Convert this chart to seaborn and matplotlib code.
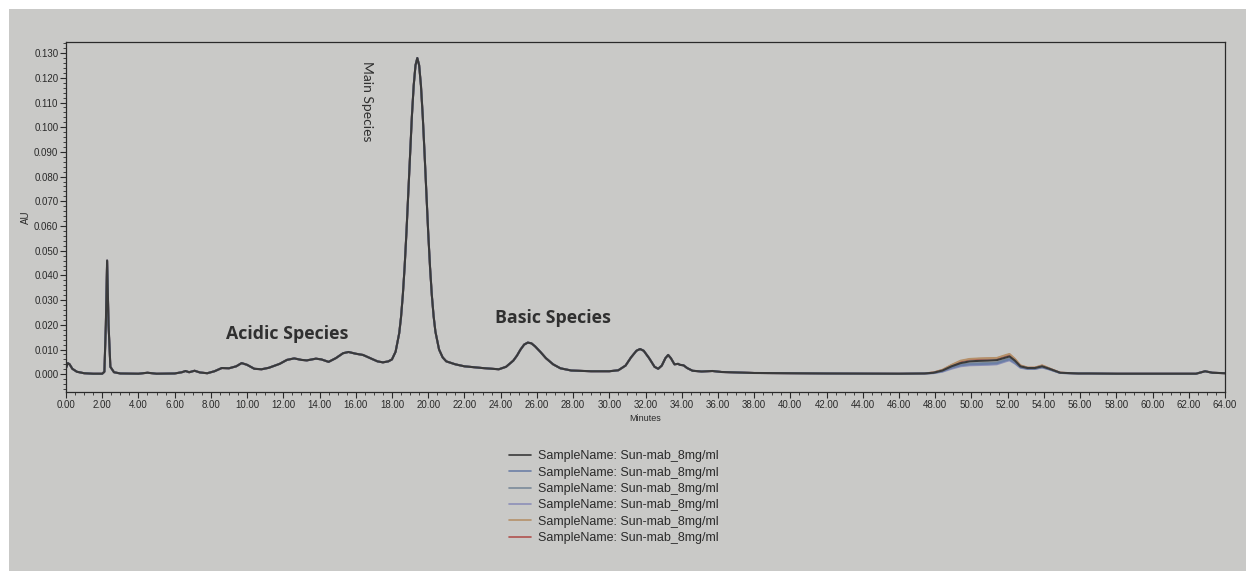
import numpy as np
import pandas as pd
import matplotlib
matplotlib.use("Agg")
import matplotlib.pyplot as plt
from matplotlib.lines import Line2D
from matplotlib.patches import Rectangle
from matplotlib.ticker import MultipleLocator, FormatStrFormatter
import seaborn as sns

# ---------------- data ----------------
# shared part of the chromatogram (all six injections overlap here)
time_common = [0.0, 0.1, 0.2, 0.35, 0.6, 1.0, 1.5, 2.0, 2.12, 2.2, 2.27, 2.35, 2.45, 2.65,
               3.0, 4.0, 4.5, 5.0, 6.0, 6.4, 6.6, 6.8, 7.1, 7.4, 7.8, 8.2, 8.6, 9.0, 9.4,
               9.7, 10.0, 10.4, 10.8, 11.2, 11.8, 12.2, 12.6, 13.0, 13.3, 13.8, 14.1, 14.5,
               14.9, 15.3, 15.6, 16.0, 16.4, 16.8, 17.2, 17.5, 17.8, 18.0, 18.2, 18.4,
               18.5, 18.6, 18.7, 18.8, 18.9, 19.0, 19.1, 19.2, 19.3, 19.4, 19.5, 19.6,
               19.7, 19.8, 19.9, 20.0, 20.1, 20.2, 20.3, 20.4, 20.6, 20.8, 21.0, 21.5,
               22.0, 23.0, 23.9, 24.3, 24.7, 24.9, 25.1, 25.3, 25.5, 25.7, 25.9, 26.2,
               26.5, 26.9, 27.3, 27.9, 29.0, 30.0, 30.5, 30.9, 31.2, 31.5, 31.7, 31.9,
               32.2, 32.5, 32.7, 32.9, 33.1, 33.25, 33.4, 33.6, 33.8, 33.9, 34.1, 34.3,
               34.6, 35.1, 35.7, 36.2, 38.0, 42.0, 46.0, 47.4]
au_common = [0.0025, 0.0045, 0.0040, 0.0022, 0.0010, 0.0004, 0.0002, 0.0002, 0.0010, 0.0200,
             0.0460, 0.0200, 0.0030, 0.0008, 0.0003, 0.0002, 0.0006, 0.0002, 0.0003, 0.0008,
             0.0013, 0.0008, 0.0014, 0.0007, 0.0004, 0.0012, 0.0025, 0.0024, 0.0032, 0.0045,
             0.0038, 0.0022, 0.0020, 0.0026, 0.0042, 0.0058, 0.0064, 0.0058, 0.0056, 0.0063,
             0.0060, 0.0050, 0.0065, 0.0085, 0.0090, 0.0083, 0.0078, 0.0065, 0.0052, 0.0048,
             0.0052, 0.0060, 0.0091, 0.0166, 0.0231, 0.0321, 0.0436, 0.0575, 0.0731, 0.0893,
             0.1044, 0.1169, 0.1251, 0.1280, 0.1251, 0.1169, 0.1044, 0.0893, 0.0731, 0.0575,
             0.0436, 0.0321, 0.0235, 0.0172, 0.0100, 0.0068, 0.0052, 0.0040, 0.0032, 0.0025,
             0.0020, 0.0030, 0.0055, 0.0075, 0.0100, 0.0120, 0.0128, 0.0125, 0.0113, 0.0090,
             0.0065, 0.0040, 0.0024, 0.0015, 0.0012, 0.0012, 0.0016, 0.0035, 0.0068, 0.0095,
             0.0102, 0.0095, 0.0065, 0.0030, 0.0022, 0.0035, 0.0065, 0.0078, 0.0065, 0.0040,
             0.0042, 0.0038, 0.0036, 0.0025, 0.0014, 0.0011, 0.0013, 0.0009, 0.0005, 0.0003,
             0.0002, 0.0003]

# late region (48-56 min) where the injections differ
time_late = [47.9, 48.4, 48.9, 49.4, 49.9, 50.4, 50.9, 51.4, 51.9, 52.1, 52.4, 52.7,
             53.1, 53.5, 53.9, 54.3, 54.9, 55.9]
au_late_1 = [0.0006, 0.0015, 0.0032, 0.0045, 0.0052, 0.0054, 0.0055, 0.0057, 0.0068, 0.0072,
             0.0055, 0.0032, 0.0025, 0.0025, 0.0032, 0.0022, 0.0006, 0.0003]
au_late_2 = [0.0005, 0.0012, 0.0026, 0.0036, 0.0040, 0.0041, 0.0042, 0.0044, 0.0056, 0.0060,
             0.0046, 0.0028, 0.0022, 0.0022, 0.0028, 0.0020, 0.0005, 0.0003]
au_late_3 = [0.0005, 0.0013, 0.0028, 0.0039, 0.0044, 0.0045, 0.0046, 0.0048, 0.0060, 0.0064,
             0.0049, 0.0030, 0.0023, 0.0023, 0.0030, 0.0021, 0.0005, 0.0003]
au_late_4 = [0.0004, 0.0010, 0.0022, 0.0032, 0.0036, 0.0037, 0.0038, 0.0040, 0.0052, 0.0056,
             0.0043, 0.0026, 0.0021, 0.0021, 0.0027, 0.0019, 0.0005, 0.0003]
au_late_5 = [0.0007, 0.0018, 0.0038, 0.0055, 0.0062, 0.0064, 0.0065, 0.0066, 0.0078, 0.0082,
             0.0062, 0.0036, 0.0027, 0.0027, 0.0036, 0.0024, 0.0006, 0.0003]
au_late_6 = [0.0007, 0.0017, 0.0036, 0.0052, 0.0060, 0.0062, 0.0063, 0.0064, 0.0075, 0.0080,
             0.0060, 0.0035, 0.0026, 0.0026, 0.0035, 0.0023, 0.0006, 0.0003]

# tail of the run
time_tail = [56.5, 58.0, 62.4, 62.9, 63.3, 64.0]
au_tail = [0.0003, 0.0002, 0.0002, 0.0012, 0.0006, 0.0004]

sample_names = ["SampleName: Sun-mab_8mg/ml"] * 6
late_series = [au_late_1, au_late_2, au_late_3, au_late_4, au_late_5, au_late_6]
line_colors = ["#3a3a3a", "#6c7fa6", "#7a8a9a", "#8c8fb8", "#b5916a", "#b0524e"]

peak_labels = ["Acidic Species", "Main Species", "Basic Species"]
x_ticks = np.arange(0, 66, 2)
y_ticks = np.arange(0, 0.131, 0.01)

# ---------------- figure ----------------
sns.set_theme(style="ticks")
plt.rcParams["font.family"] = ["Liberation Sans", "DejaVu Sans"]

W, H = 1246, 571
bg = "#c9c9c7"
fig = plt.figure(figsize=(W / 100, H / 100), dpi=100, facecolor="white")
fig.patches.append(Rectangle((9 / W, 0), 1 - 9 / W, 1 - 9 / H, transform=fig.transFigure,
                             facecolor=bg, edgecolor="none", zorder=-10))

ax = fig.add_axes([66 / W, 1 - 392 / H, (1225 - 66) / W, (392 - 42) / H])
ax.set_facecolor(bg)

draw_order = [5, 4, 3, 2, 1, 0]
for i in draw_order:
    t = list(time_common) + list(time_late) + list(time_tail)
    a = list(au_common) + list(late_series[i]) + list(au_tail)
    df = pd.DataFrame({"Minutes": t, "AU": a})
    sns.lineplot(data=df, x="Minutes", y="AU", ax=ax, color=line_colors[i],
                 lw=1.5 if i == 0 else 1.4, estimator=None, errorbar=None, legend=False)

ax.set_xlim(0, 64)
ax.set_ylim(-0.0072, 0.1345)
ax.set_xticks(x_ticks)
ax.set_yticks(y_ticks)
ax.xaxis.set_major_formatter(FormatStrFormatter("%.2f"))
ax.yaxis.set_major_formatter(FormatStrFormatter("%.3f"))
ax.xaxis.set_minor_locator(MultipleLocator(0.5))
ax.yaxis.set_minor_locator(MultipleLocator(0.002))
ax.tick_params(which="major", direction="out", length=4, width=0.8, labelsize=7,
               colors="#2a2a2a", pad=1.5)
ax.tick_params(which="minor", direction="out", length=2, width=0.6, colors="#2a2a2a")
for s in ax.spines.values():
    s.set_visible(True)
    s.set_linewidth(0.9)
    s.set_color("#2a2a2a")

ax.set_xlabel("Minutes", fontsize=6.5, color="#2a2a2a", labelpad=3)
ax.set_ylabel("AU", fontsize=7, color="#2a2a2a", labelpad=2)

ax.text(12.2, 0.0163, peak_labels[0], fontsize=12.8, fontweight="bold", family="Open Sans",
        color="#303030", ha="center", va="center")
ax.text(16.6, 0.1105, peak_labels[1], fontsize=10, family="Lato", rotation=270,
        color="#303030", ha="center", va="center")
ax.text(26.9, 0.0228, peak_labels[2], fontsize=12.8, fontweight="bold", family="Open Sans",
        color="#303030", ha="center", va="center")

handles = [Line2D([0], [0], color=c, lw=1.2) for c in line_colors]
fig.legend(handles, sample_names, loc="upper center", bbox_to_anchor=(614 / W, 1 - 444 / H),
           frameon=False, fontsize=9, handlelength=1.7, handletextpad=0.6,
           labelspacing=0.35, borderpad=0)
for txt in fig.legends[0].get_texts():
    txt.set_color("#2a2a2a")

fig.savefig("out.png", dpi=100, facecolor=fig.get_facecolor())
